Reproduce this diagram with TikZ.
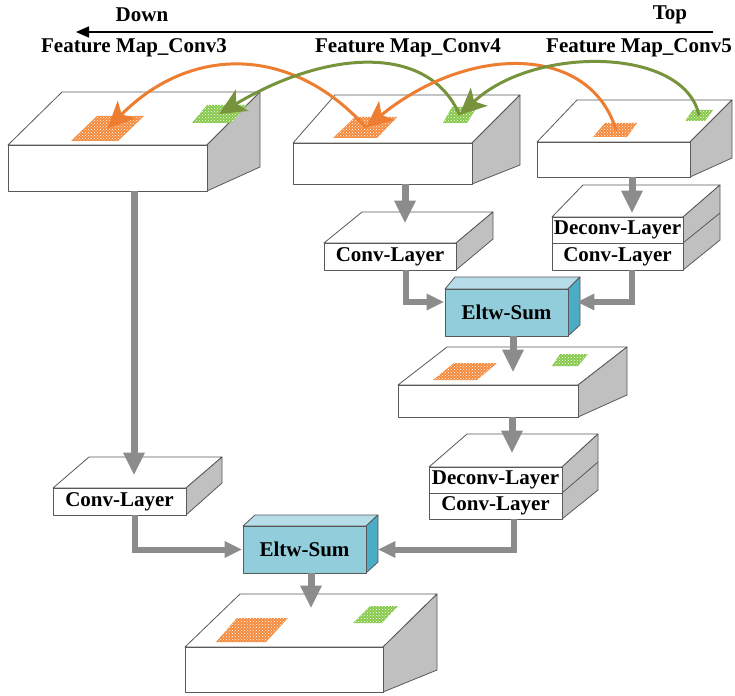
\documentclass[tikz,border=0pt]{standalone}
\usepackage{fontspec}
\setmainfont{Liberation Serif}
\usetikzlibrary{arrows.meta,fit,patterns,calc}

\definecolor{edge}{HTML}{595959}
\definecolor{plainfront}{HTML}{FFFFFF}
\definecolor{plaintop}{HTML}{FFFFFF}
\definecolor{plainside}{HTML}{C0C0C0}
\definecolor{sumfront}{HTML}{92CDDC}
\definecolor{sumtop}{HTML}{B7DEE8}
\definecolor{sumside}{HTML}{4BACC6}
\definecolor{arrowgray}{HTML}{8C8C8C}
\definecolor{arcorange}{HTML}{ED7D31}
\definecolor{arcgreen}{HTML}{77933C}
\definecolor{patchorange}{HTML}{F58A3C}
\definecolor{patchgreen}{HTML}{86C94A}

\tikzset{
  facet/.style={draw=edge, line width=0.8pt, line join=round},
  txt/.style={font=\fontsize{21}{24}\selectfont\bfseries, inner sep=0pt},
  flow/.style={draw=arrowgray, line width=7pt,
    -{Triangle[length=22pt,width=22pt,line width=0pt]}},
  elbow/.style={draw=arrowgray, line width=6pt, line join=miter,
    -{Triangle[length=17pt,width=17pt,line width=0pt]}},
  crossarc/.style={line width=3pt,
    -{Stealth[length=27pt,width=25pt,inset=7pt,line width=0pt]}},
}

% slab: name, front top-left, front bottom-right, back top-left,
% back top-right, side bottom-right, label, colour set
\newcommand{\drawslab}[8]{%
  \coordinate (#1-tl) at (#2);
  \coordinate (#1-br) at (#3);
  \coordinate (#1-tr) at (#1-br |- #1-tl);
  \filldraw[facet, fill=#8top] (#1-tl) -- (#4) -- (#5) -- (#1-tr) -- cycle;
  \filldraw[facet, fill=#8side] (#1-tr) -- (#5) -- (#6) -- (#1-br) -- cycle;
  \node[facet, fill=#8front, fit=(#1-tl)(#1-br), inner sep=0pt] (#1) {};
  \node[txt] (#1-label) at (#1.center) {#7};
}

% two-layer slab: name, front top-left, divider left, front bottom-right,
% back top-left, back top-right, side bottom-right, side divider end
\newcommand{\drawstack}[8]{%
  \coordinate (#1-tl) at (#2);
  \coordinate (#1-ml) at (#3);
  \coordinate (#1-br) at (#4);
  \coordinate (#1-tr) at (#1-br |- #1-tl);
  \coordinate (#1-mr) at (#1-br |- #1-ml);
  \filldraw[facet, fill=plaintop] (#1-tl) -- (#5) -- (#6) -- (#1-tr) -- cycle;
  \filldraw[facet, fill=plainside] (#1-tr) -- (#6) -- (#7) -- (#1-br) -- cycle;
  \draw[facet] (#1-mr) -- (#8);
  \node[facet, fill=plainfront, fit=(#1-tl)(#1-mr), inner sep=0pt] (#1a) {};
  \node[facet, fill=plainfront, fit=(#1-ml)(#1-br), inner sep=0pt] (#1b) {};
  \node[txt] (#1a-label) at (#1a.center) {Deconv-Layer};
  \node[txt] (#1b-label) at (#1b.center) {Conv-Layer};
}

% dotted patch on a feature map: name, four corners, colour
\newcommand{\drawpatch}[6]{%
  \fill[#6] (#2) -- (#3) -- (#4) -- (#5) -- cycle;
  \fill[pattern=crosshatch dots, pattern color=white] (#2) -- (#3) -- (#4) -- (#5) -- cycle;
  \coordinate (#1) at ($(#2)!0.5!(#4)$);
}

\begin{document}
\begin{tikzpicture}[x=1pt,y=-1pt]
\useasboundingbox (0,0) rectangle (735,695);

% header
\node[txt] (lbl-down) at (142,15) {Down};
\node[txt] (lbl-top) at (670,15) {Top};
\coordinate (hdr-top) at (713,32);
\coordinate (hdr-down) at (76,32);
\draw[line width=1.5pt, -{Triangle[length=13pt,width=11pt]}] (hdr-top) -- (hdr-down);
\node[txt] (lbl-c3) at (134,48) {Feature Map\_Conv3};
\node[txt] (lbl-c4) at (408,48) {Feature Map\_Conv4};
\node[txt] (lbl-c5) at (639,48) {Feature Map\_Conv5};

% feature maps and layers
\drawslab{fm3}{8,145}{207,191}{62,92}{260,92}{260,167}{}{plain}
\drawslab{fm4}{293,143}{472,184}{335,95}{520,95}{520,165}{}{plain}
\drawslab{fm5}{537,142}{690,177}{577,100}{732,100}{732,158}{}{plain}
\drawslab{cv4}{324,243}{456,270}{362,212}{493,212}{493,239}{Conv-Layer}{plain}
\drawstack{dc5}{552,217}{552,243}{683,270}{583,185}{720,185}{720,240}{720,213}
\drawslab{sum1}{445,289}{568,336}{455,277}{580,277}{580,325}{Eltw-Sum}{sum}
\drawslab{fmm}{398,385}{578,417}{447,347}{627,347}{627,395}{}{plain}
\drawstack{dcm}{429,467}{429,493}{562,519}{467,434}{598,434}{598,490}{598,462}
\drawslab{cv3}{53,488}{186,515}{89,457}{222,457}{222,483}{Conv-Layer}{plain}
\drawslab{sum2}{243,526}{366,573}{255,515}{378,515}{378,562}{Eltw-Sum}{sum}
\drawslab{fmf}{185,647}{383,692}{240,594}{437,594}{437,670}{}{plain}

% patches
\drawpatch{o3}{97,116}{144,116}{118,141}{71,141}{patchorange}
\drawpatch{g3}{207,105}{247,105}{231,123}{192,123}{patchgreen}
\drawpatch{o4}{355,117}{397,117}{377,138}{333,138}{patchorange}
\drawpatch{g4}{452,107}{477,107}{467,123}{443,123}{patchgreen}
\drawpatch{o5}{605,123}{637,123}{627,137}{593,137}{patchorange}
\drawpatch{g5}{693,110}{713,110}{705,121}{685,121}{patchgreen}
\drawpatch{om}{454,363}{497,363}{477,380}{433,380}{patchorange}
\drawpatch{gm}{560,354}{588,354}{578,366}{552,366}{patchgreen}
\drawpatch{of}{237,618}{288,618}{266,642}{216,642}{patchorange}
\drawpatch{gf}{370,606}{398,606}{382,623}{353,623}{patchgreen}

% data flow
\coordinate (s1) at ($(fm3.south)+(26.5,0)$);
\coordinate (e1) at ($(s1 |- cv3.north)+(0,-13)$);
\draw[flow] (s1) -- (e1);
\coordinate (s2) at ($(fm4.south)+(22.5,0)$);
\coordinate (e2) at ($(s2 |- cv4.north)+(0,-20)$);
\draw[flow] (s2) -- (e2);
\coordinate (s3) at ($(fm5.south)+(18.5,0)$);
\coordinate (e3) at ($(s3 |- dc5a.north)+(0,-4)$);
\draw[flow] (s3) -- (e3);
\coordinate (s4) at ($(cv4.south)+(16,0)$);
\coordinate (e4) at ($(sum1.west)+(-1,-10.5)$);
\draw[elbow] (s4) |- (e4);
\coordinate (s5) at ($(dc5b.south)+(14.5,0)$);
\coordinate (e5) at ($(sum1.east)+(9,-10.5)$);
\draw[elbow] (s5) |- (e5);
\coordinate (s6) at ($(sum1.south)+(6.5,0)$);
\coordinate (e6) at ($(s6 |- fmm.north)+(0,-13)$);
\draw[flow] (s6) -- (e6);
\coordinate (s7) at ($(fmm.south)+(24,0)$);
\coordinate (e7) at ($(s7 |- dcma.north)+(0,-14)$);
\draw[flow] (s7) -- (e7);
\coordinate (s8) at ($(dcmb.south)+(18,0)$);
\coordinate (e8) at ($(sum2.east)+(12,0)$);
\draw[elbow] (s8) |- (e8);
\coordinate (s9) at ($(cv3.south)+(15,0)$);
\coordinate (e9) at ($(sum2.west)+(-1,0)$);
\draw[elbow] (s9) |- (e9);
\coordinate (s10) at ($(sum2.south)+(6.5,0)$);
\coordinate (e10) at ($(s10 |- fmf.north)+(0,-39)$);
\draw[flow] (s10) -- (e10);

% top-down links between patches
\draw[crossarc, arcorange] (o4) .. controls (292,45) and (191,45) .. (o3);
\draw[crossarc, arcgreen] (g4) .. controls (430,45) and (330,48) .. (g3);
\draw[crossarc, arcorange] (o5) .. controls (590,44) and (469,44) .. (o4);
\draw[crossarc, arcgreen] (g5) .. controls (685,47) and (535,45) .. (g4);
\end{tikzpicture}
\end{document}
